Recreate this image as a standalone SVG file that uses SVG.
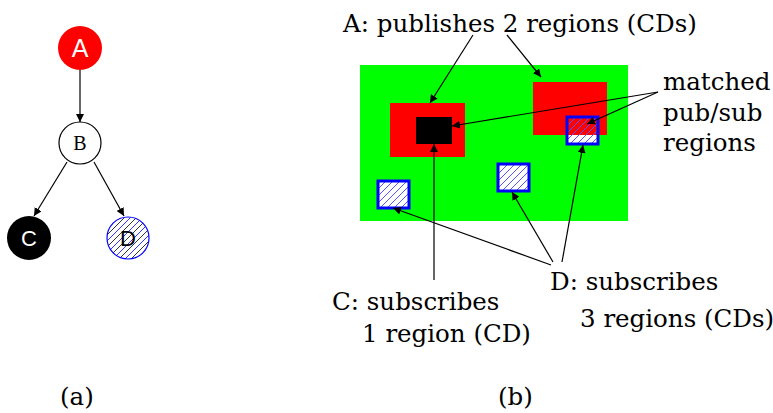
<svg xmlns="http://www.w3.org/2000/svg" width="773" height="413" viewBox="0 0 773 413">
<style>
.lbl{font-family:"DejaVu Serif","Liberation Serif",serif;font-size:24.5px;fill:#000}
.con{stroke:#000;stroke-width:1.2;fill:none}
.sq{stroke:#0000ff;stroke-width:3}
.sans{font-family:"Liberation Sans",Arial,sans-serif}
.mono{font-family:"Liberation Serif","Courier New",serif}
</style>
<defs>
<marker id="ah" viewBox="0 0 10 10" refX="10" refY="5" markerWidth="8" markerHeight="8" markerUnits="userSpaceOnUse" orient="auto">
<path d="M0,0 L10,5 L0,10 z" fill="#000"/>
</marker>
<pattern id="hatch" patternUnits="userSpaceOnUse" width="7" height="7">
<path d="M-1,1 l2,-2 M0,7 l7,-7 M6,8 l2,-2" stroke="#5555ff" stroke-width="1"/>
</pattern>
<pattern id="hatchD" patternUnits="userSpaceOnUse" width="12" height="12">
<path d="M-1,1 l2,-2 M0,12 l12,-12 M11,13 l2,-2" stroke="#3333ff" stroke-width="1"/>
<path d="M-1,7 l8,-8 M5,13 l8,-8" stroke="#333" stroke-width="1"/>
</pattern>
</defs>
<rect width="773" height="413" fill="#fff"/>

<g id="tree-connectors">
<line class="con" x1="80" y1="70" x2="80" y2="122" marker-end="url(#ah)"/>
<line class="con" x1="67" y1="162" x2="34" y2="216" marker-end="url(#ah)"/>
<line class="con" x1="94" y1="162" x2="124" y2="216" marker-end="url(#ah)"/>
</g>
<g id="nodeA">
<circle cx="80" cy="48" r="22" fill="#ff0000"/>
<text class="sans" x="80" y="57" text-anchor="middle" font-size="25" fill="#fff">A</text>
</g>
<g id="nodeB">
<circle cx="80" cy="143" r="21" fill="#fff" stroke="#000" stroke-width="1.2"/>
<text class="mono" x="80" y="150" text-anchor="middle" font-size="20" font-weight="300" fill="#000">B</text>
</g>
<g id="nodeC">
<circle cx="29" cy="238" r="22" fill="#000"/>
<text class="sans" x="29" y="246" text-anchor="middle" font-size="22" fill="#fff">C</text>
</g>
<g id="nodeD">
<circle cx="128" cy="238" r="21" fill="#fff"/>
<circle cx="128" cy="238" r="21" fill="url(#hatchD)" stroke="#0000ff" stroke-width="1.2"/>
<text class="sans" x="128" y="246" text-anchor="middle" font-size="22" fill="#000">D</text>
</g>

<g id="regions">
<rect x="360" y="65" width="268" height="156" fill="#00ff00"/>
<rect x="390" y="103" width="75" height="54" fill="#ff0000"/>
<rect x="416" y="117" width="36" height="27" fill="#000"/>
<rect x="533" y="82" width="74" height="53" fill="#ff0000"/>
<g id="subTR">
<rect x="567" y="117" width="31" height="27" fill="#fff"/>
<rect x="567" y="117" width="31" height="18" fill="#ff0000"/>
<rect x="567" y="117" width="31" height="27" fill="url(#hatch)" class="sq"/>
</g>
<g id="subMid">
<rect x="498" y="164" width="31" height="27" fill="#fff"/>
<rect x="498" y="164" width="31" height="27" fill="url(#hatch)" class="sq"/>
</g>
<g id="subLeft">
<rect x="378" y="181" width="31" height="27" fill="#fff"/>
<rect x="378" y="181" width="31" height="27" fill="url(#hatch)" class="sq"/>
</g>
</g>

<g id="connectors">
<line class="con" x1="473" y1="35" x2="430" y2="103" marker-end="url(#ah)"/>
<line class="con" x1="507" y1="35" x2="541" y2="77" marker-end="url(#ah)"/>
<line class="con" x1="658" y1="92" x2="452" y2="126" marker-end="url(#ah)"/>
<line class="con" x1="658" y1="92" x2="587" y2="124" marker-end="url(#ah)"/>
<line class="con" x1="434" y1="280" x2="434" y2="144" marker-end="url(#ah)"/>
<line class="con" x1="551" y1="265" x2="393" y2="208" marker-end="url(#ah)"/>
<line class="con" x1="553" y1="262" x2="512" y2="192" marker-end="url(#ah)"/>
<line class="con" x1="562" y1="262" x2="583" y2="145" marker-end="url(#ah)"/>
</g>

<g id="labels">
<text class="lbl" x="343" y="32">A: publishes 2 regions (CDs)</text>
<text class="lbl" x="663" y="90">matched</text>
<text class="lbl" x="663" y="121">pub/sub</text>
<text class="lbl" x="663" y="151">regions</text>
<text class="lbl" x="550" y="290">D: subscribes</text>
<text class="lbl" x="580" y="327">3 regions (CDs)</text>
<text class="lbl" x="332" y="310">C: subscribes</text>
<text class="lbl" x="362" y="342">1 region (CD)</text>
<text class="lbl" x="60" y="405">(a)</text>
<text class="lbl" x="498" y="405">(b)</text>
</g>
</svg>
